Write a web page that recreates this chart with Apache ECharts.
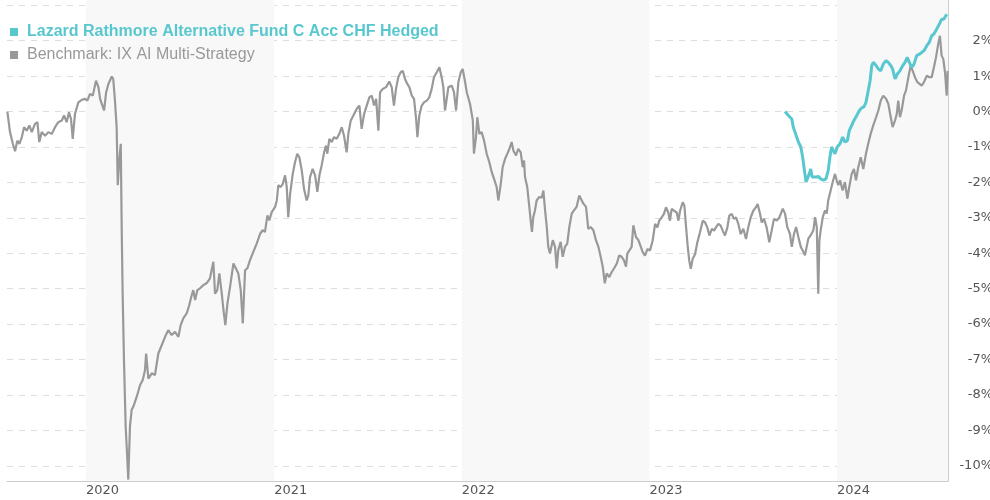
<!DOCTYPE html>
<html>
<head>
<meta charset="utf-8">
<script src="https://cdn.jsdelivr.net/npm/echarts@6/dist/echarts.min.js"></script>
<style>
    html, body { margin: 0; padding: 0; background: #fff; }
    #chart { width: 990px; height: 500px; }
</style>
</head>
<body>
<div id="chart"></div>
<script>
var fundName = 'Lazard Rathmore Alternative Fund C Acc CHF Hedged';
var benchName = 'Benchmark: IX AI Multi-Strategy';

// dates as decimal years, values in %
var benchDates = [
    2019.581,2019.595,2019.610,2019.622,2019.634,2019.645,2019.658,2019.670,2019.684,2019.698,
    2019.711,2019.728,2019.741,2019.751,2019.764,2019.782,2019.799,2019.817,2019.835,2019.852,
    2019.871,2019.883,2019.897,2019.909,2019.920,2019.929,2019.941,2019.959,2019.977,2019.995,
    2020.007,2020.021,2020.036,2020.053,2020.066,2020.075,2020.084,2020.096,2020.107,2020.119,
    2020.137,2020.145,2020.154,2020.163,2020.169,2020.177,2020.185,2020.190,2020.195,2020.202,
    2020.211,2020.220,2020.225,2020.234,2020.243,2020.252,2020.270,2020.288,2020.302,2020.314,
    2020.320,2020.332,2020.350,2020.367,2020.385,
    2020.421,2020.438,2020.456,2020.474,2020.492,2020.504,2020.518,2020.536,2020.550,2020.563,
    2020.571,2020.581,2020.593,2020.607,2020.625,2020.643,2020.660,2020.678,2020.687,2020.699,
    2020.710,2020.723,2020.731,2020.742,2020.753,2020.767,2020.785,2020.799,2020.811,2020.824,
    2020.835,2020.847,2020.859,2020.873,2020.891,2020.909,2020.927,2020.941,2020.953,2020.966,
    2020.976,2020.989,2021.007,2021.016,2021.024,2021.037,2021.048,2021.060,2021.069,2021.077,
    2021.087,2021.101,2021.113,2021.125,2021.136,2021.149,2021.161,2021.175,2021.184,2021.193,
    2021.207,2021.220,2021.232,2021.243,2021.255,2021.268,2021.278,2021.285,2021.296,2021.309,
    2021.321,2021.335,2021.349,2021.362,2021.374,2021.388,2021.397,2021.410,2021.424,2021.442,
    2021.456,2021.468,2021.481,2021.495,2021.509,2021.522,2021.534,2021.545,2021.557,2021.566,
    2021.580,2021.598,2021.615,2021.628,2021.640,2021.651,2021.663,2021.676,2021.687,2021.699,
    2021.711,2021.722,2021.735,2021.747,2021.758,2021.765,2021.775,2021.788,2021.800,2021.815,
    2021.828,2021.841,2021.853,2021.868,2021.882,2021.894,2021.903,2021.912,2021.921,2021.930,
    2021.948,2021.960,2021.971,2021.983,2021.996,2022.006,2022.019,2022.028,
    2022.045,2022.060,2022.066,2022.077,2022.084,2022.095,2022.107,2022.120,2022.134,2022.148,
    2022.161,2022.173,2022.187,2022.196,2022.209,2022.219,2022.232,2022.244,2022.255,2022.267,
    2022.276,2022.290,2022.302,2022.315,2022.326,2022.333,2022.338,2022.350,2022.361,2022.368,
    2022.375,2022.382,2022.391,2022.400,2022.414,2022.427,2022.436,2022.445,2022.454,2022.462,
    2022.471,2022.486,2022.498,2022.507,2022.515,2022.528,2022.539,2022.551,2022.563,2022.574,
    2022.587,2022.599,2022.613,2022.627,2022.636,2022.649,2022.663,2022.675,2022.688,2022.702,
    2022.716,2022.729,2022.741,2022.752,2022.763,2022.773,2022.787,2022.800,2022.812,2022.827,
    2022.840,2022.853,2022.865,2022.876,2022.883,2022.894,2022.906,2022.915,2022.929,2022.942,
    2022.951,2022.965,2022.977,2022.990,2023.004,2023.018,2023.031,2023.043,2023.053,2023.066,
    2023.078,2023.089,2023.101,2023.110,2023.119,2023.132,2023.146,2023.155,2023.164,2023.178,
    2023.187,2023.196,2023.205,2023.213,2023.221,2023.231,2023.244,2023.256,2023.270,2023.285,
    2023.297,2023.309,2023.320,2023.333,2023.345,2023.355,2023.368,2023.380,2023.391,2023.403,
    2023.416,2023.426,2023.439,2023.451,2023.462,2023.474,2023.487,2023.501,2023.515,2023.527,
    2023.540,2023.554,2023.568,2023.577,2023.590,2023.599,2023.611,2023.625,2023.639,2023.652,
    2023.664,2023.679,2023.693,
    2023.711,2023.723,2023.735,2023.749,2023.759,2023.771,2023.782,2023.794,2023.807,2023.817,
    2023.829,2023.838,2023.847,2023.860,2023.874,2023.883,2023.892,2023.900,2023.906,2023.913,
    2023.924,2023.936,2023.945,2023.953,2023.966,2023.977,2023.989,2023.998,2024.007,2024.016,
    2024.030,2024.042,2024.055,2024.065,2024.078,2024.090,2024.101,2024.113,2024.126,2024.140,
    2024.154,2024.166,2024.179,2024.193,2024.208,2024.220,2024.233,2024.246,2024.261,2024.273,
    2024.286,2024.296,2024.309,2024.318,2024.326,2024.335,2024.344,2024.357,2024.367,2024.380,
    2024.392,2024.403,2024.415,2024.428,2024.438,2024.451,2024.463,2024.478,2024.491,2024.504,
    2024.516,2024.527,2024.539,2024.548,2024.557,2024.566,2024.575,2024.584,2024.589
];
var benchValues = [
    0.00,-0.58,-0.91,-1.12,-0.82,-0.91,-0.72,-0.44,-0.54,-0.39,
    -0.58,-0.35,-0.30,-0.86,-0.58,-0.68,-0.58,-0.63,-0.44,-0.30,
    -0.25,-0.11,-0.30,-0.02,-0.21,-0.77,-0.07,0.26,0.33,0.36,
    0.31,0.50,0.45,0.87,0.69,0.36,0.22,0.03,0.54,0.78,
    0.99,0.92,0.31,-0.44,-2.08,-1.38,-0.91,-3.35,-5.14,-7.01,
    -8.89,-9.83,-10.39,-8.89,-8.42,-8.33,-8.05,-7.72,-7.58,-7.30,
    -6.83,-7.54,-7.39,-7.44,-6.83,
    -6.36,-6.17,-6.31,-6.22,-6.36,-6.03,-5.84,-5.70,-5.46,-5.18,
    -5.04,-5.32,-5.04,-4.99,-4.90,-4.84,-4.71,-4.24,-5.14,-5.04,
    -4.57,-5.14,-5.56,-6.03,-5.42,-4.95,-4.29,-4.44,-4.57,-5.04,
    -5.98,-4.48,-4.43,-4.20,-3.96,-3.73,-3.45,-3.35,-3.40,-2.93,
    -3.07,-2.84,-2.69,-2.51,-2.08,-2.13,-2.04,-1.80,-2.13,-2.98,
    -2.32,-1.76,-1.43,-1.19,-1.29,-1.66,-2.18,-2.51,-2.37,-1.85,
    -1.62,-1.80,-2.27,-1.80,-1.52,-1.15,-0.96,-1.19,-0.77,-0.86,
    -0.72,-0.77,-0.63,-0.44,-0.68,-1.15,-0.63,-0.25,-0.11,0.08,
    0.17,-0.49,-0.07,0.17,0.40,0.45,0.17,0.36,-0.54,0.54,
    0.64,0.69,0.85,0.69,0.17,0.64,0.97,1.11,1.15,0.92,
    0.78,0.69,0.45,0.36,-0.21,-0.72,-0.11,0.17,0.26,0.31,
    0.40,0.64,0.97,1.11,1.25,0.97,0.69,0.03,0.36,0.69,
    0.73,0.54,0.03,0.83,1.11,1.20,0.83,0.54,
    0.22,-0.25,-1.19,-0.72,-0.16,-0.63,-0.58,-0.82,-1.19,-1.43,
    -1.71,-1.90,-2.13,-2.51,-2.04,-1.57,-1.33,-1.19,-1.05,-0.86,
    -1.10,-1.24,-1.05,-1.15,-1.57,-1.38,-1.85,-2.13,-2.69,-3.07,
    -3.40,-2.98,-2.79,-2.51,-2.41,-2.43,-2.23,-2.79,-3.26,-3.82,
    -4.01,-3.63,-3.82,-4.43,-3.92,-3.68,-4.10,-3.82,-3.73,-3.26,
    -2.88,-2.79,-2.69,-2.37,-2.32,-2.60,-2.69,-3.31,-3.26,-3.35,
    -3.63,-3.82,-4.10,-4.38,-4.85,-4.57,-4.67,-4.53,-4.43,-4.29,
    -4.06,-4.10,-4.20,-4.38,-4.01,-3.92,-3.82,-3.21,-3.54,-3.63,
    -3.64,-3.97,-4.07,-3.88,-3.92,-3.64,-3.17,-3.27,-3.08,-2.99,
    -2.89,-2.70,-2.85,-3.08,-2.75,-2.80,-2.85,-3.08,-2.80,-2.56,
    -2.66,-3.27,-3.83,-4.21,-4.44,-4.16,-4.02,-3.69,-3.41,-3.08,
    -3.13,-3.27,-3.50,-3.31,-3.36,-3.27,-3.17,-3.22,-3.36,-3.50,
    -3.27,-2.94,-2.89,-3.03,-2.99,-3.17,-3.46,-3.31,-3.60,-3.27,
    -2.99,-2.80,-2.70,-2.61,-2.89,-3.13,-3.03,-3.27,-3.69,-3.36,
    -3.03,-3.08,-2.99,
    -2.74,-2.88,-3.26,-3.45,-3.82,-3.45,-3.26,-3.54,-3.82,-3.92,
    -4.06,-4.10,-3.59,-3.49,-3.35,-2.98,-3.26,-5.14,-3.63,-3.35,
    -2.98,-2.79,-2.88,-2.51,-2.23,-1.99,-1.76,-1.94,-2.08,-1.94,
    -2.23,-1.99,-2.46,-2.13,-1.76,-1.62,-1.94,-1.57,-1.29,-1.62,
    -1.19,-0.91,-0.63,-0.39,-0.16,0.03,0.31,0.45,0.36,0.22,
    -0.16,-0.44,-0.25,-0.07,0.31,-0.16,0.03,0.45,0.59,0.97,
    1.30,1.15,0.97,0.83,0.87,0.73,0.83,1.01,0.97,0.97,
    1.25,1.53,1.91,2.14,1.58,1.48,1.11,0.45,1.15
];

var fundDates = [
    2023.723,2023.741,2023.759,2023.767,2023.776,2023.785,2023.794,2023.807,2023.817,2023.824,
    2023.835,2023.842,2023.852,2023.860,2023.867,2023.874,2023.888,2023.900,2023.913,2023.927,
    2023.941,2023.953,2023.962,2023.971,2023.980,2023.989,2024.001,2024.016,2024.030,2024.042,
    2024.055,2024.065,2024.078,2024.090,2024.105,2024.119,2024.131,2024.144,2024.154,2024.166,
    2024.176,2024.185,2024.193,2024.208,2024.220,2024.233,2024.246,2024.261,2024.273,2024.286,
    2024.296,2024.309,2024.321,2024.335,2024.350,2024.362,2024.374,2024.385,2024.398,2024.410,
    2024.424,2024.438,2024.451,2024.463,2024.478,2024.491,2024.504,2024.516,2024.531,2024.545,
    2024.557,2024.569,2024.584
];
var fundValues = [
    0.00,-0.11,-0.21,-0.44,-0.58,-0.72,-0.86,-1.00,-1.29,-1.57,
    -1.99,-2.04,-1.76,-1.62,-1.85,-1.80,-1.85,-1.83,-1.90,-1.94,
    -1.90,-1.66,-1.29,-1.00,-1.10,-1.19,-1.00,-0.91,-0.72,-0.86,
    -0.82,-0.54,-0.39,-0.25,-0.11,0.03,0.10,0.14,0.26,0.59,
    0.87,1.30,1.39,1.30,1.20,1.15,1.34,1.44,1.39,1.30,
    1.20,0.92,1.06,1.15,1.30,1.39,1.53,1.39,1.25,1.34,
    1.58,1.62,1.67,1.72,1.86,1.95,2.14,2.19,2.33,2.47,
    2.61,2.61,2.75
];

var xStart = 2019.579, xEnd = 2024.591;
var yMin = -10.43, yMax = 3.15;
var lastLabel = 2;

var cyan = '#58c7cf';
var grey = '#999999';

function yearToTime(t) {
    return Date.UTC(2020, 0, 1) + (t - 2020) * 365.25 * 86400000;
}
function pairs(dates, values) {
    var res = [];
    var n = Math.min(dates.length, values.length);
    for (var i = 0; i < n; i++) res.push([yearToTime(dates[i]), values[i]]);
    return res;
}

var myChart = echarts.init(document.getElementById('chart'));

var option = {
    animation: false,
    grid: { left: 7, right: 42, top: 0, bottom: 19, outerBoundsMode: 'none', containLabel: false },
    legend: {
        orient: 'vertical',
        left: 10,
        top: 24,
        padding: 0,
        icon: 'rect',
        itemWidth: 8,
        itemHeight: 8,
        itemGap: 7,
        selectedMode: false,
        textStyle: { fontSize: 16, fontFamily: 'Liberation Sans', padding: [0, 0, 0, 4] },
        data: [
            { name: fundName, textStyle: { color: cyan, fontWeight: 'bold', fontSize: 16, fontFamily: 'Liberation Sans', padding: [0, 0, 0, 4] } },
            { name: benchName, textStyle: { color: '#999', fontSize: 16, fontFamily: 'Liberation Sans', padding: [0, 0, 0, 4] } }
        ]
    },
    xAxis: {
        type: 'time',
        min: yearToTime(xStart),
        max: yearToTime(xEnd),
        splitNumber: 5,
        minInterval: 365 * 86400000,
        axisLine: { onZero: false, lineStyle: { color: '#cccccc' } },
        axisTick: { show: false },
        axisLabel: {
            align: 'left',
            margin: 3,
            color: '#555',
            fontSize: 13,
            fontFamily: 'DejaVu Sans',
            showMinLabel: false,
            showMaxLabel: false,
            formatter: function (value) {
                var d = new Date(value);
                if (d.getMonth() === 0 && d.getDate() === 1) return String(d.getFullYear());
                return '';
            }
        },
        splitLine: { show: false },
        splitArea: { show: true, areaStyle: { color: ['rgba(255,255,255,0)', '#f8f8f8'] } }
    },
    yAxis: {
        type: 'value',
        position: 'right',
        min: yMin,
        max: yMax,
        splitNumber: 14,
        axisLine: { show: true, lineStyle: { color: '#cccccc' } },
        axisTick: { show: false },
        axisLabel: {
            align: 'right',
            margin: 45,
            color: '#555',
            fontSize: 13,
            fontFamily: 'DejaVu Sans',
            formatter: function (v) {
                if (Math.abs(v - Math.round(v)) > 1e-6 || v > lastLabel) return '';
                return Math.round(v) + '%';
            }
        },
        splitLine: {
            showMinLine: false,
            showMaxLine: false,
            lineStyle: { color: '#dddddd', type: [6, 6], width: 1 }
        }
    },
    series: [
        {
            name: benchName,
            type: 'line',
            showSymbol: false,
            symbol: 'none',
            lineStyle: { color: grey, width: 2.2 },
            itemStyle: { color: grey },
            data: pairs(benchDates, benchValues)
        },
        {
            name: fundName,
            type: 'line',
            showSymbol: false,
            symbol: 'none',
            lineStyle: { color: cyan, width: 3 },
            itemStyle: { color: cyan },
            data: pairs(fundDates, fundValues)
        }
    ]
};

myChart.setOption(option);
</script>
</body>
</html>
